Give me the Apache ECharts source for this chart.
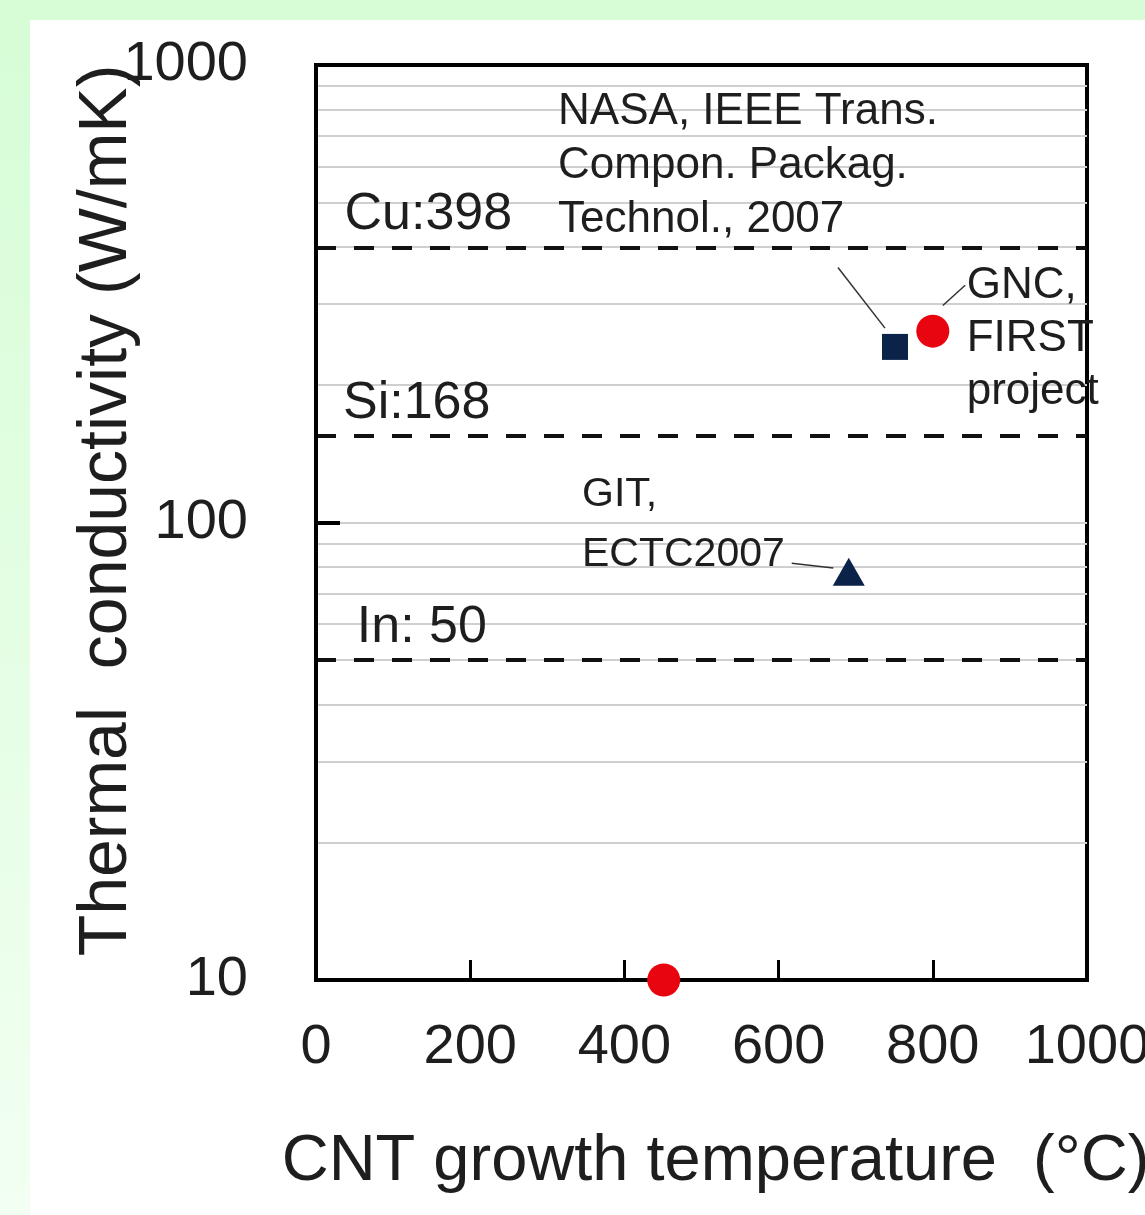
<!DOCTYPE html>
<html>
<head>
<meta charset="utf-8">
<script src="https://cdn.jsdelivr.net/npm/echarts@6/dist/echarts.min.js"></script>
<style>
html, body { margin: 0; padding: 0; }
body {
    width: 1145px; height: 1215px; overflow: hidden;
    background: linear-gradient(180deg, #d6fdd6 0%, #e6fee6 60%, #f2fff2 100%);
    position: relative;
}
#cnt-chart {
    position: absolute; left: 30px; top: 20px;
    width: 1115px; height: 1195px; background: #fff;
}
</style>
</head>
<body>
<div id="cnt-chart"></div>
<script>
// values
var xTicks = [0, 200, 400, 600, 800, 1000];
var yTicks = [10, 100, 1000];
var gridValues = [20, 30, 40, 50, 60, 70, 80, 90, 100, 200, 300, 400, 500, 600, 700, 800, 900];

var gncPoints = [[800, 262], [451, 10]];
var nasaPoints = [[751, 242]];
var gitPoints = [[691, 78]];

// reference metals (line drawn where it sits in the picture)
var refNames = ['Cu:398', 'Si:168', 'In: 50'];
var refValues = [398, 155, 50];
var refLabelAt = [[37, 472], [35, 182], [53, 59]];

var noteTexts = ['NASA, IEEE Trans.\nCompon. Packag.\nTechnol., 2007', 'GIT,\nECTC2007', 'GNC,\nFIRST\nproject'];
var noteAt = [[314, 601], [345, 99], [844, 252]];

var leaders = [
    [[677, 361], [738, 266]],
    [[617, 81.5], [671, 79.5]],
    [[813, 298], [842, 330]]
];

var FONT = "'Liberation Sans', Arial, sans-serif";
var TXT = '#1e1e1e';

var chart = echarts.init(document.getElementById('cnt-chart'));

var refLabelData = refNames.map(function (n, i) {
    return {
        value: refLabelAt[i], name: n,
        label: { fontSize: 52 }
    };
});
var noteSizes = [44, 41, 44];
var noteLH = [54, 60, 53];
var noteData = noteTexts.map(function (t, i) {
    return {
        value: noteAt[i], name: t,
        label: { fontSize: noteSizes[i], lineHeight: noteLH[i] }
    };
});

var option = {
    animation: false,
    grid: {
        left: 286, top: 45, right: 58, bottom: 235,
        outerBoundsMode: 'none', containLabel: false,
        show: true, borderColor: '#000', borderWidth: 4,
        backgroundColor: 'transparent'
    },
    xAxis: {
        type: 'value', min: xTicks[0], max: xTicks[xTicks.length - 1], interval: 200, z: 4,
        name: 'CNT growth temperature  (\u00b0C)', nameLocation: 'middle', nameGap: 150,
        nameMoveOverlap: false,
        nameTextStyle: { fontFamily: FONT, fontSize: 65, color: TXT, padding: [0, 0, 0, 28] },
        axisLine: { show: true, lineStyle: { color: '#000', width: 4 } },
        axisTick: { show: true, inside: true, length: 20, lineStyle: { color: '#000', width: 3 } },
        axisLabel: {
            fontFamily: FONT, fontSize: 56, color: TXT, margin: 40, showMaxLabel: true,
            formatter: function (v) { return String(v); }
        },
        splitLine: { show: false }
    },
    yAxis: {
        type: 'log', logBase: 10, min: yTicks[0], max: yTicks[yTicks.length - 1], z: 4,
        name: 'Thermal  conductivity (W/mK)', nameLocation: 'middle', nameGap: 175,
        nameMoveOverlap: false,
        nameTextStyle: { fontFamily: FONT, fontSize: 68, color: TXT, padding: [0, 0, 0, 24] },
        axisLine: { show: true, lineStyle: { color: '#000', width: 4 } },
        axisTick: { show: true, inside: true, length: 24, lineStyle: { color: '#000', width: 4 } },
        axisLabel: {
            fontFamily: FONT, fontSize: 56, color: TXT, margin: 68,
            formatter: function (v) { return String(Math.round(v)); }
        },
        splitLine: { show: false },
        minorTick: { show: false }
    },
    series: [
        {
            // light grid lines
            type: 'scatter', data: [], silent: true, z: 1,
            markLine: {
                silent: true, symbol: 'none', label: { show: false }, animation: false, z: 1,
                lineStyle: { color: '#cfcfcf', width: 2, type: 'solid', opacity: 1 },
                data: gridValues.map(function (v) { return { yAxis: v }; })
            }
        },
        {
            // reference metals
            type: 'scatter', data: [], silent: true, z: 2,
            markLine: {
                silent: true, symbol: 'none', label: { show: false }, animation: false, z: 2,
                lineStyle: { color: '#111', width: 4, type: [20, 18], opacity: 1 },
                data: refValues.map(function (v) { return { yAxis: v }; })
            }
        },
        {
            type: 'lines', coordinateSystem: 'cartesian2d', z: 3, silent: true,
            lineStyle: { color: '#333', width: 1.5, opacity: 1 },
            data: leaders.map(function (c) { return { coords: c }; })
        },
        {
            name: 'NASA', type: 'scatter', symbol: 'rect', symbolSize: 26, z: 5,
            itemStyle: { color: '#0b2349', opacity: 1 }, data: nasaPoints
        },
        {
            name: 'GIT', type: 'scatter', symbol: 'triangle', symbolSize: [32, 28], z: 5,
            itemStyle: { color: '#0b2349', opacity: 1 }, data: gitPoints
        },
        {
            name: 'GNC', type: 'scatter', symbol: 'circle', symbolSize: 33, z: 6,
            itemStyle: { color: '#e8050f', opacity: 1 }, data: gncPoints
        },
        {
            type: 'scatter', symbolSize: 0, silent: true, z: 3,
            itemStyle: { opacity: 1 },
            label: {
                show: true, position: 'inside', align: 'left', verticalAlign: 'middle',
                fontFamily: FONT, color: TXT,
                formatter: function (p) { return p.name; }
            },
            data: refLabelData.concat(noteData)
        }
    ]
};

chart.setOption(option);
</script>
</body>
</html>
